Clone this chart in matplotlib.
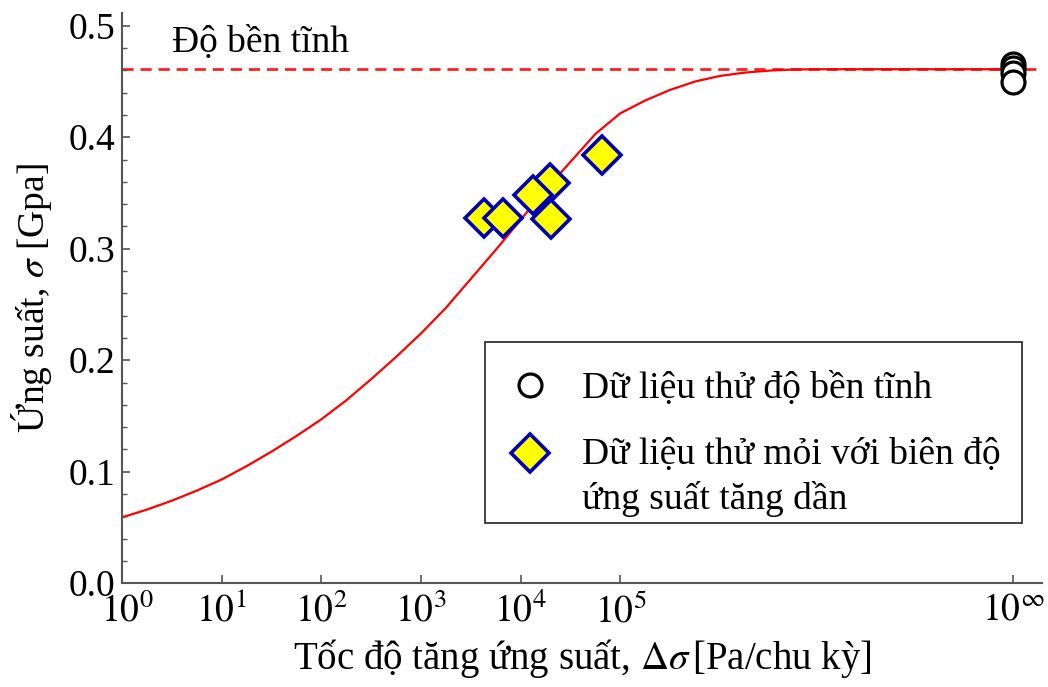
import numpy as np
import matplotlib
matplotlib.use("Agg")
import matplotlib.pyplot as plt
import matplotlib.transforms as mtransforms
from matplotlib.patches import Rectangle
from matplotlib.ticker import FixedLocator, MultipleLocator, FormatStrFormatter
from matplotlib.legend_handler import HandlerLine2D

plt.rcParams['font.family'] = ['Liberation Serif', 'DejaVu Serif']
plt.rcParams['mathtext.fontset'] = 'stix'

# duong cong (doc tu hinh): so mu cua toc do (10^k) va ung suat [GPa]
curve_exp = [0, 0.25, 0.5, 0.75, 1.0, 1.25, 1.5, 1.75, 2.0, 2.25, 2.5, 2.75, 3.0,
             3.25, 3.5, 3.75, 4.0, 4.25, 4.5, 4.75, 5.0, 5.25, 5.5, 5.75, 6.0,
             6.25, 6.5, 6.75, 7.0, 8.94]
curve_stress = [0.059, 0.066, 0.074, 0.083, 0.093, 0.105, 0.118, 0.132, 0.147,
                0.164, 0.183, 0.203, 0.224, 0.247, 0.273, 0.299, 0.326, 0.353,
                0.378, 0.403, 0.4215, 0.433, 0.4425, 0.450, 0.455, 0.458, 0.4598,
                0.4608, 0.461, 0.461]

# du lieu thu moi (thu tu ve giong hinh goc)
fatigue_rate = [4.3e3, 6.6e3, 1.95e4, 1.32e4, 2.0e4, 6.6e4]
fatigue_stress = [0.3273, 0.3273, 0.3587, 0.348, 0.3264, 0.384]

# du lieu thu do ben tinh, ve tai vi tri "10^inf"
inf_pos = 10 ** 8.94
static_stress = [0.4654, 0.4618, 0.4578, 0.4493]

static_strength = 0.461

x_ticks = [1e0, 1e1, 1e2, 1e3, 1e4, 1e5, inf_pos]
x_ticklabels = [r'$10^{0}$', r'$10^{1}$', r'$10^{2}$', r'$10^{3}$', r'$10^{4}$',
                r'$10^{5}$', r'$10^{\infty}$']

fs = 27


class FirstLineHandler(HandlerLine2D):
    # dua marker len ngang dong dau cua nhan 2 dong
    def create_artists(self, legend, orig_handle, xdescent, ydescent, width,
                       height, fontsize, trans):
        arts = super().create_artists(legend, orig_handle, xdescent, ydescent,
                                      width, height, fontsize, trans)
        for a in arts:
            a.set_ydata(np.asarray(a.get_ydata(), dtype=float) + 0.65 * fontsize)
        return arts


fig = plt.figure(figsize=(10.48, 6.87), dpi=100)
ax = fig.add_axes([0.1164, 0.1511, 0.8779, 0.8304])

ax.axhline(static_strength, color='#FF2020', lw=2.0, ls=(0, (4, 2.5)), zorder=1)
ax.plot(10.0 ** np.array(curve_exp), curve_stress, color='#FF0000', lw=1.6, zorder=2)

for s in static_stress:
    ax.plot(inf_pos, s, 'o', ms=16.5, mfc='white', mec='black', mew=2.3, zorder=4)
h_static, = ax.plot([], [], 'o', ms=16.5, mfc='white', mec='black', mew=2.3)

for r, s in zip(fatigue_rate, fatigue_stress):
    ax.plot(r, s, 'D', ms=19, mfc='#FFFF00', mec='#0000B4', mew=2.6, zorder=3)
h_fat, = ax.plot([], [], 'D', ms=19, mfc='#FFFF00', mec='#0000B4', mew=2.6)

ax.text(10 ** 0.5, 0.4845, 'Độ bền tĩnh', fontsize=fs, ha='left', va='center')

ax.set_xscale('log')
ax.set_xlim(1, 10 ** 9.23)
ax.set_ylim(0, 0.5117)

ax.xaxis.set_major_locator(FixedLocator(x_ticks))
ax.xaxis.set_minor_locator(FixedLocator([]))
ax.set_xticklabels(x_ticklabels)
ax.yaxis.set_major_locator(MultipleLocator(0.1))
ax.yaxis.set_minor_locator(MultipleLocator(0.02))
ax.yaxis.set_major_formatter(FormatStrFormatter('%.1f'))

for s in ['top', 'right']:
    ax.spines[s].set_visible(False)
for s in ['left', 'bottom']:
    ax.spines[s].set_color('#555555')
    ax.spines[s].set_linewidth(1.5)

ax.tick_params(axis='both', which='major', direction='in', length=6, width=1.2,
               color='#555555', labelsize=fs)
ax.tick_params(axis='x', which='major', pad=7)
ax.tick_params(axis='y', which='major', pad=5)
ax.tick_params(axis='y', which='minor', direction='in', length=3.5, width=1.0,
               color='#555555')

# tach nhan "0.0" va "10^0" o goc mot chut
fig.canvas.draw()
ax.get_yticklabels()[0].set_transform(
    ax.get_yticklabels()[0].get_transform()
    + mtransforms.ScaledTranslation(0, 4 / 72, fig.dpi_scale_trans))
ax.get_xticklabels()[0].set_transform(
    ax.get_xticklabels()[0].get_transform()
    + mtransforms.ScaledTranslation(4 / 72, 0, fig.dpi_scale_trans))

ax.set_xlabel(r'Tốc độ tăng ứng suất, $\Delta\sigma\,$[Pa/chu kỳ]', fontsize=28,
              labelpad=5)
ax.set_ylabel(r'Ứng suất, $\sigma$ [Gpa]', fontsize=fs, labelpad=10)

# khung chu thich ve rieng
ax.add_patch(Rectangle((0.3946, 0.105), 0.5837, 0.3183, transform=ax.transAxes,
                       fill=True, facecolor='white', edgecolor='#333333', lw=1.3,
                       zorder=5))

leg = ax.legend([h_static, h_fat],
                ['Dữ liệu thử độ bền tĩnh', 'Dữ liệu thử mỏi với biên độ\nứng suất tăng dần'],
                loc='upper left', bbox_to_anchor=(0.3968, 0.400), fontsize=fs,
                frameon=False, handlelength=1.4, handletextpad=0.68,
                labelspacing=0.84, borderpad=0.45, borderaxespad=0, numpoints=1,
                handler_map={h_fat: FirstLineHandler()})
leg.set_zorder(6)
for t in leg.get_texts():
    t.set_linespacing(1.3)

fig.savefig('out.png', dpi=100)
